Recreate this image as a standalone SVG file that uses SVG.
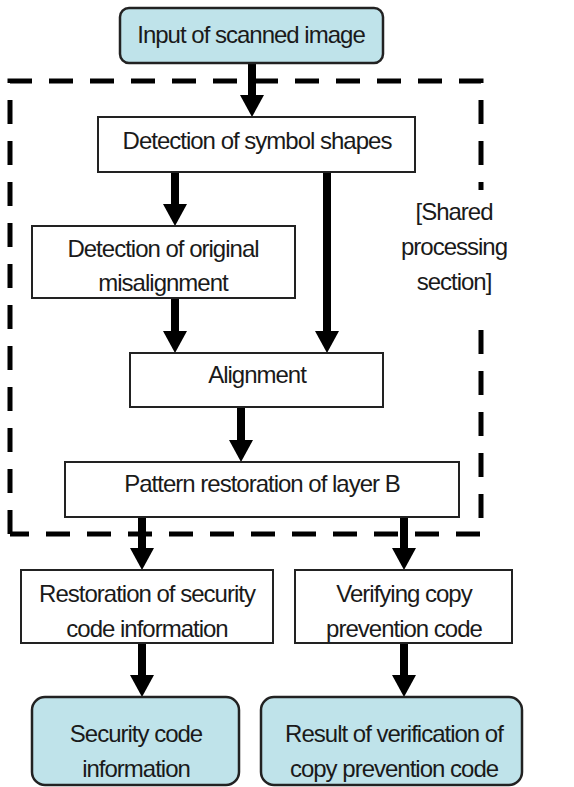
<svg xmlns="http://www.w3.org/2000/svg" width="574" height="787" viewBox="0 0 574 787">
<style>
.box{fill:#fff;stroke:#222;stroke-width:2}
.term{fill:#bfe3ea;stroke:#222;stroke-width:2.5}
text{font-family:"Liberation Sans",Arial,sans-serif;font-size:24px;fill:#1a1a1a;text-anchor:middle;letter-spacing:-1px}
.arrow{stroke:#000;stroke-width:8;fill:none;marker-end:url(#ah)}
.dash{stroke:#000;stroke-width:5;fill:none;stroke-dasharray:24 17}
</style>
<defs>
<marker id="ah" markerUnits="userSpaceOnUse" markerWidth="22" markerHeight="24" refX="1" refY="12" orient="auto">
<path d="M0,0 L22,12 L0,24 z" fill="#000"/>
</marker>
</defs>
<rect width="574" height="787" fill="#fff"/>
<g id="shared-section">
<path class="dash" d="M10,534 L10,81 L481,81 L481,190"/>
<path class="dash" d="M481,330 L481,534 L10,534"/>
<text x="454" y="220">[Shared</text>
<text x="454" y="255">processing</text>
<text x="454" y="290">section]</text>
</g>
<g id="connectors">
<line class="arrow" x1="252" y1="63" x2="252" y2="96"/>
<line class="arrow" x1="175" y1="172" x2="175" y2="205"/>
<line class="arrow" x1="327" y1="172" x2="327" y2="332"/>
<line class="arrow" x1="175" y1="298" x2="175" y2="332"/>
<line class="arrow" x1="241" y1="407" x2="241" y2="441"/>
<line class="arrow" x1="142" y1="517" x2="142" y2="549"/>
<line class="arrow" x1="404" y1="517" x2="404" y2="549"/>
<line class="arrow" x1="142" y1="643" x2="142" y2="676"/>
<line class="arrow" x1="404" y1="643" x2="404" y2="676"/>
</g>
<g id="input">
<rect class="term" x="120" y="8" width="263" height="55" rx="9"/>
<text x="251" y="43">Input of scanned image</text>
</g>
<g id="detect-shapes">
<rect class="box" x="98" y="117" width="317" height="55"/>
<text x="257" y="149">Detection of symbol shapes</text>
</g>
<g id="detect-misalignment">
<rect class="box" x="32" y="226" width="263" height="72"/>
<text x="163" y="257">Detection of original</text>
<text x="163" y="291">misalignment</text>
</g>
<g id="alignment">
<rect class="box" x="130" y="353" width="253" height="54"/>
<text x="257" y="383">Alignment</text>
</g>
<g id="pattern-restoration">
<rect class="box" x="65" y="462" width="394" height="55"/>
<text x="262" y="492">Pattern restoration of layer B</text>
</g>
<g id="restore-security">
<rect class="box" x="21" y="570" width="252" height="73"/>
<text x="147" y="602">Restoration of security</text>
<text x="147" y="637">code information</text>
</g>
<g id="verify-copy">
<rect class="box" x="295" y="570" width="217" height="73"/>
<text x="404" y="602">Verifying copy</text>
<text x="404" y="637">prevention code</text>
</g>
<g id="security-info">
<rect class="term" x="32" y="697" width="207" height="88" rx="13"/>
<text x="136" y="742">Security code</text>
<text x="136" y="777">information</text>
</g>
<g id="verification-result">
<rect class="term" x="261" y="697" width="261" height="88" rx="13"/>
<text x="394" y="742">Result of verification of</text>
<text x="394" y="777">copy prevention code</text>
</g>
</svg>
